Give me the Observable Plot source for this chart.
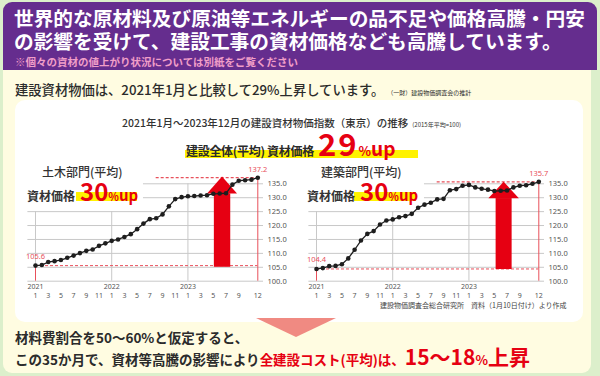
<!DOCTYPE html>
<html><head><meta charset="utf-8">
<script src="https://cdn.jsdelivr.net/npm/d3@7"></script>
<script src="https://cdn.jsdelivr.net/npm/@observablehq/plot@0.6"></script>
<style>
html,body{margin:0;padding:0;}
body{width:600px;height:376px;overflow:hidden;background:#dcefcb;font-family:"Noto Sans CJK JP","Noto Sans",sans-serif;}
#page{position:relative;width:600px;height:376px;}
.abs{position:absolute;white-space:nowrap;line-height:1;}
.row{display:flex;align-items:baseline;}
.red{color:#e60012;}
svg{overflow:visible;}
</style></head>
<body><div id="page">
<div class="abs" style="left:3px;top:2px;width:594px;height:68px;background:#652d8e;border-radius:9px 9px 0 0"></div>
<div class="abs" style="left:3px;top:70px;width:588px;height:303px;background:#fffce1;border-radius:0 0 9px 9px"></div>
<div class="abs" style="left:15px;top:100px;width:568px;height:222px;background:#ffffff;border-radius:10px"></div>
<div class="abs" style="left:256px;top:318px;width:0;height:0;border-left:40px solid transparent;border-right:40px solid transparent;border-top:19px solid #f08a82"></div>

<div class="abs" style="left:14px;top:8px;font-size:19.7px;font-weight:700;color:#fff">世界的な原材料及び原油等エネルギーの品不足や価格高騰・円安</div>
<div class="abs" style="left:14px;top:31px;font-size:19.7px;font-weight:700;color:#fff">の影響を受けて、建設工事の資材価格なども高騰しています。</div>
<div class="abs" style="left:15px;top:57px;font-size:10.5px;font-weight:700;color:#f19ec8">※個々の資材の値上がり状況については別紙をご覧ください</div>

<div class="abs row" style="left:15px;top:83px;color:#2b2b2b"><span style="font-size:13.3px;font-weight:500">建設資材物価は、2021年1月と比較して29%上昇しています。</span><span style="font-size:6px;margin-left:3px">（一財）建設物価調査会の推計</span></div>

<div class="abs row" style="left:122px;top:118px;color:#333"><span style="font-size:10.5px;font-weight:500">2021年1月〜2023年12月の建設資材物価指数（東京）の推移</span><span style="font-size:6px;margin-left:4px">(2015年平均=100)</span></div>

<div class="abs" style="left:185px;top:150px;width:233px;height:8px;background:#fff200"></div>
<div class="abs row" style="left:186px;top:131px;color:#2b2b2b;font-weight:700;line-height:0.8"><span style="font-size:12px;letter-spacing:-0.3px">建設全体(平均) 資材価格</span><span class="red" style="font-size:31px;margin-left:4px;letter-spacing:2px">29</span><span class="red" style="font-size:13px">%</span><span class="red" style="font-size:19px">up</span></div>

<div id="left" class="abs" style="left:0px;top:150px"></div>
<div id="right" class="abs" style="left:280.7px;top:150px"></div>

<div class="abs" style="left:42px;top:166px;font-size:12px;font-weight:500;color:#333">土木部門(平均)</div>
<div class="abs" style="left:76px;top:192px;width:61px;height:9px;background:#fff200"></div>
<div class="abs row" style="left:27px;top:181px;color:#333;font-weight:700;line-height:0.8"><span style="font-size:12px">資材価格</span><span class="red" style="font-size:24px;margin-left:5px">30</span><span class="red" style="font-size:11px">%</span><span class="red" style="font-size:15px">up</span></div>

<div class="abs" style="left:321px;top:166px;font-size:12px;font-weight:500;color:#333">建築部門(平均)</div>
<div class="abs" style="left:354px;top:192px;width:62px;height:9px;background:#fff200"></div>
<div class="abs row" style="left:307px;top:181px;color:#333;font-weight:700;line-height:0.8"><span style="font-size:12px">資材価格</span><span class="red" style="font-size:24px;margin-left:5px">30</span><span class="red" style="font-size:11px">%</span><span class="red" style="font-size:15px">up</span></div>

<div class="abs" style="left:380px;top:302px;font-size:7px;color:#444">建設物価調査会総合研究所　資料（1月10日付け）より作成</div>

<div class="abs" style="left:15px;top:331px;font-size:13.5px;font-weight:700;color:#2b2b2b">材料費割合を50〜60%と仮定すると、</div>
<div class="abs row" style="left:15px;top:346px;font-weight:700;color:#2b2b2b"><span style="font-size:13.5px">この35か月で、資材等高騰の影響により</span><span class="red" style="font-size:13.5px">全建設コスト(平均)は、</span><span class="red" style="font-size:21px">15〜18</span><span class="red" style="font-size:13px">%</span><span class="red" style="font-size:21px">上昇</span></div>
</div>
<script>
// month index 0 = 2021年1月 ... 35 = 2023年12月
const months = d3.range(36);
const civil = [105.6,105.8,106.9,107.2,107.6,108.4,109.2,110.1,110.9,111.4,112.7,113.6,
               114.5,115.0,115.9,116.9,118.7,120.7,122.3,122.6,124.0,126.9,129.5,130.2,
               130.5,130.6,130.8,130.9,131.4,131.5,131.6,134.7,136.1,136.3,136.5,137.2];
const building = [104.4,104.7,105.4,105.5,106.1,108.2,111.3,114.6,117.0,118.0,120.4,121.8,
                  122.2,123.0,123.4,124.2,126.4,127.5,128.2,129.4,129.6,132.7,133.1,134.3,
                  134.6,133.7,133.2,132.9,132.4,132.5,132.6,133.7,134.3,134.5,135.0,135.7];
const yTicks = [100,105,110,115,120,125,130,135];
const yearTicks = [0,12,24];
const yearLabels = ["2021","2022","2023"];
const monthTicks = [0,2,4,6,8,10,12,14,16,18,20,22,24,26,28,30,32,35];
const monthLabels = ["1","3","5","7","9","11","1","3","5","7","9","11","1","3","5","7","9","12"];

const RED = "#e60012", LRED = "#e8505b", GRID = "#c8c8c8";

function chart(values, arrow) {
  const data = months.map((m, i) => ({m, v: values[i]}));
  const base = values[0], end = values[values.length - 1];
  const head = [
    {x: arrow.c - arrow.hwH, y1: arrow.neck, y2: arrow.neck},
    {x: arrow.c, y1: arrow.neck, y2: arrow.tip},
    {x: arrow.c + arrow.hwH, y1: arrow.neck, y2: arrow.neck}
  ];
  return Plot.plot({
    width: 300, height: 160,
    marginLeft: 35, marginRight: 42.7, marginTop: 33.3, marginBottom: 29.3,
    x: {domain: [0, 35], axis: null},
    y: {domain: [100, 135], axis: null},
    style: {background: "transparent", fontFamily: "'Noto Sans', sans-serif", color: "#555", overflow: "visible"},
    marks: [
      Plot.ruleY(yTicks.filter(v => v <= 125), {x1: -1.2, x2: 35.9, stroke: GRID}),
      Plot.ruleY(yTicks.filter(v => v > 125), {x1: 17, x2: 35.9, stroke: GRID}),
      Plot.ruleX([12], {y1: 100, y2: 125, stroke: GRID}),
      Plot.ruleX([24], {y1: 100, y2: 135, stroke: GRID}),
      Plot.ruleX([0], {y1: base, y2: 125, stroke: GRID}),
      Plot.ruleX([0], {y1: 100, y2: base, stroke: LRED}),
      Plot.ruleX([35], {y1: 100, y2: end, stroke: LRED}),
      Plot.ruleY([base], {x1: 0, x2: 35, stroke: LRED, strokeDasharray: "3,2"}),
      Plot.ruleY([end], {x1: 19, x2: 35, stroke: LRED, strokeDasharray: "3,2", strokeWidth: 1.2}),
      Plot.rect([0], {x1: arrow.c - arrow.hwS, x2: arrow.c + arrow.hwS, y1: arrow.bottom, y2: arrow.neck + 0.1, fill: RED}),
      Plot.areaY(head, {x: "x", y1: "y1", y2: "y2", fill: RED, curve: "linear"}),
      Plot.line(data, {x: "m", y: "v", stroke: "#1e1e1e", strokeWidth: 1.3}),
      Plot.dot(data, {x: "m", y: "v", r: 2.3, fill: "#1e1e1e"}),
      Plot.text([data[0]], {x: "m", y: "v", text: d => d.v.toFixed(1), dy: -9, fill: LRED, fontSize: 7.5}),
      Plot.text([data[35]], {x: "m", y: "v", text: d => d.v.toFixed(1), dy: -8, fill: LRED, fontSize: 7.5}),
      Plot.axisY({anchor: "right", ticks: yTicks, tickSize: 0, tickPadding: 9.7, tickFormat: d => d.toFixed(1), fontSize: 7.5, fill: "#555"}),
      Plot.axisX({ticks: yearTicks, tickSize: 0, tickPadding: 2.5, tickFormat: d => yearLabels[yearTicks.indexOf(d)], fontSize: 7, fill: "#555"}),
      Plot.axisX({ticks: monthTicks, tickSize: 0, tickPadding: 11.5, tickFormat: d => monthLabels[monthTicks.indexOf(d)], fontSize: 7, fill: "#555"})
    ]
  });
}

document.getElementById("left").appendChild(
  chart(civil, {c: 29.45, hwS: 1.29, hwH: 2.36, bottom: 105, neck: 131.3, tip: 137.4}));
document.getElementById("right").appendChild(
  chart(building, {c: 29.54, hwS: 1.26, hwH: 2.4, bottom: 104.2, neck: 129.6, tip: 135.6}));
</script>
</body></html>
